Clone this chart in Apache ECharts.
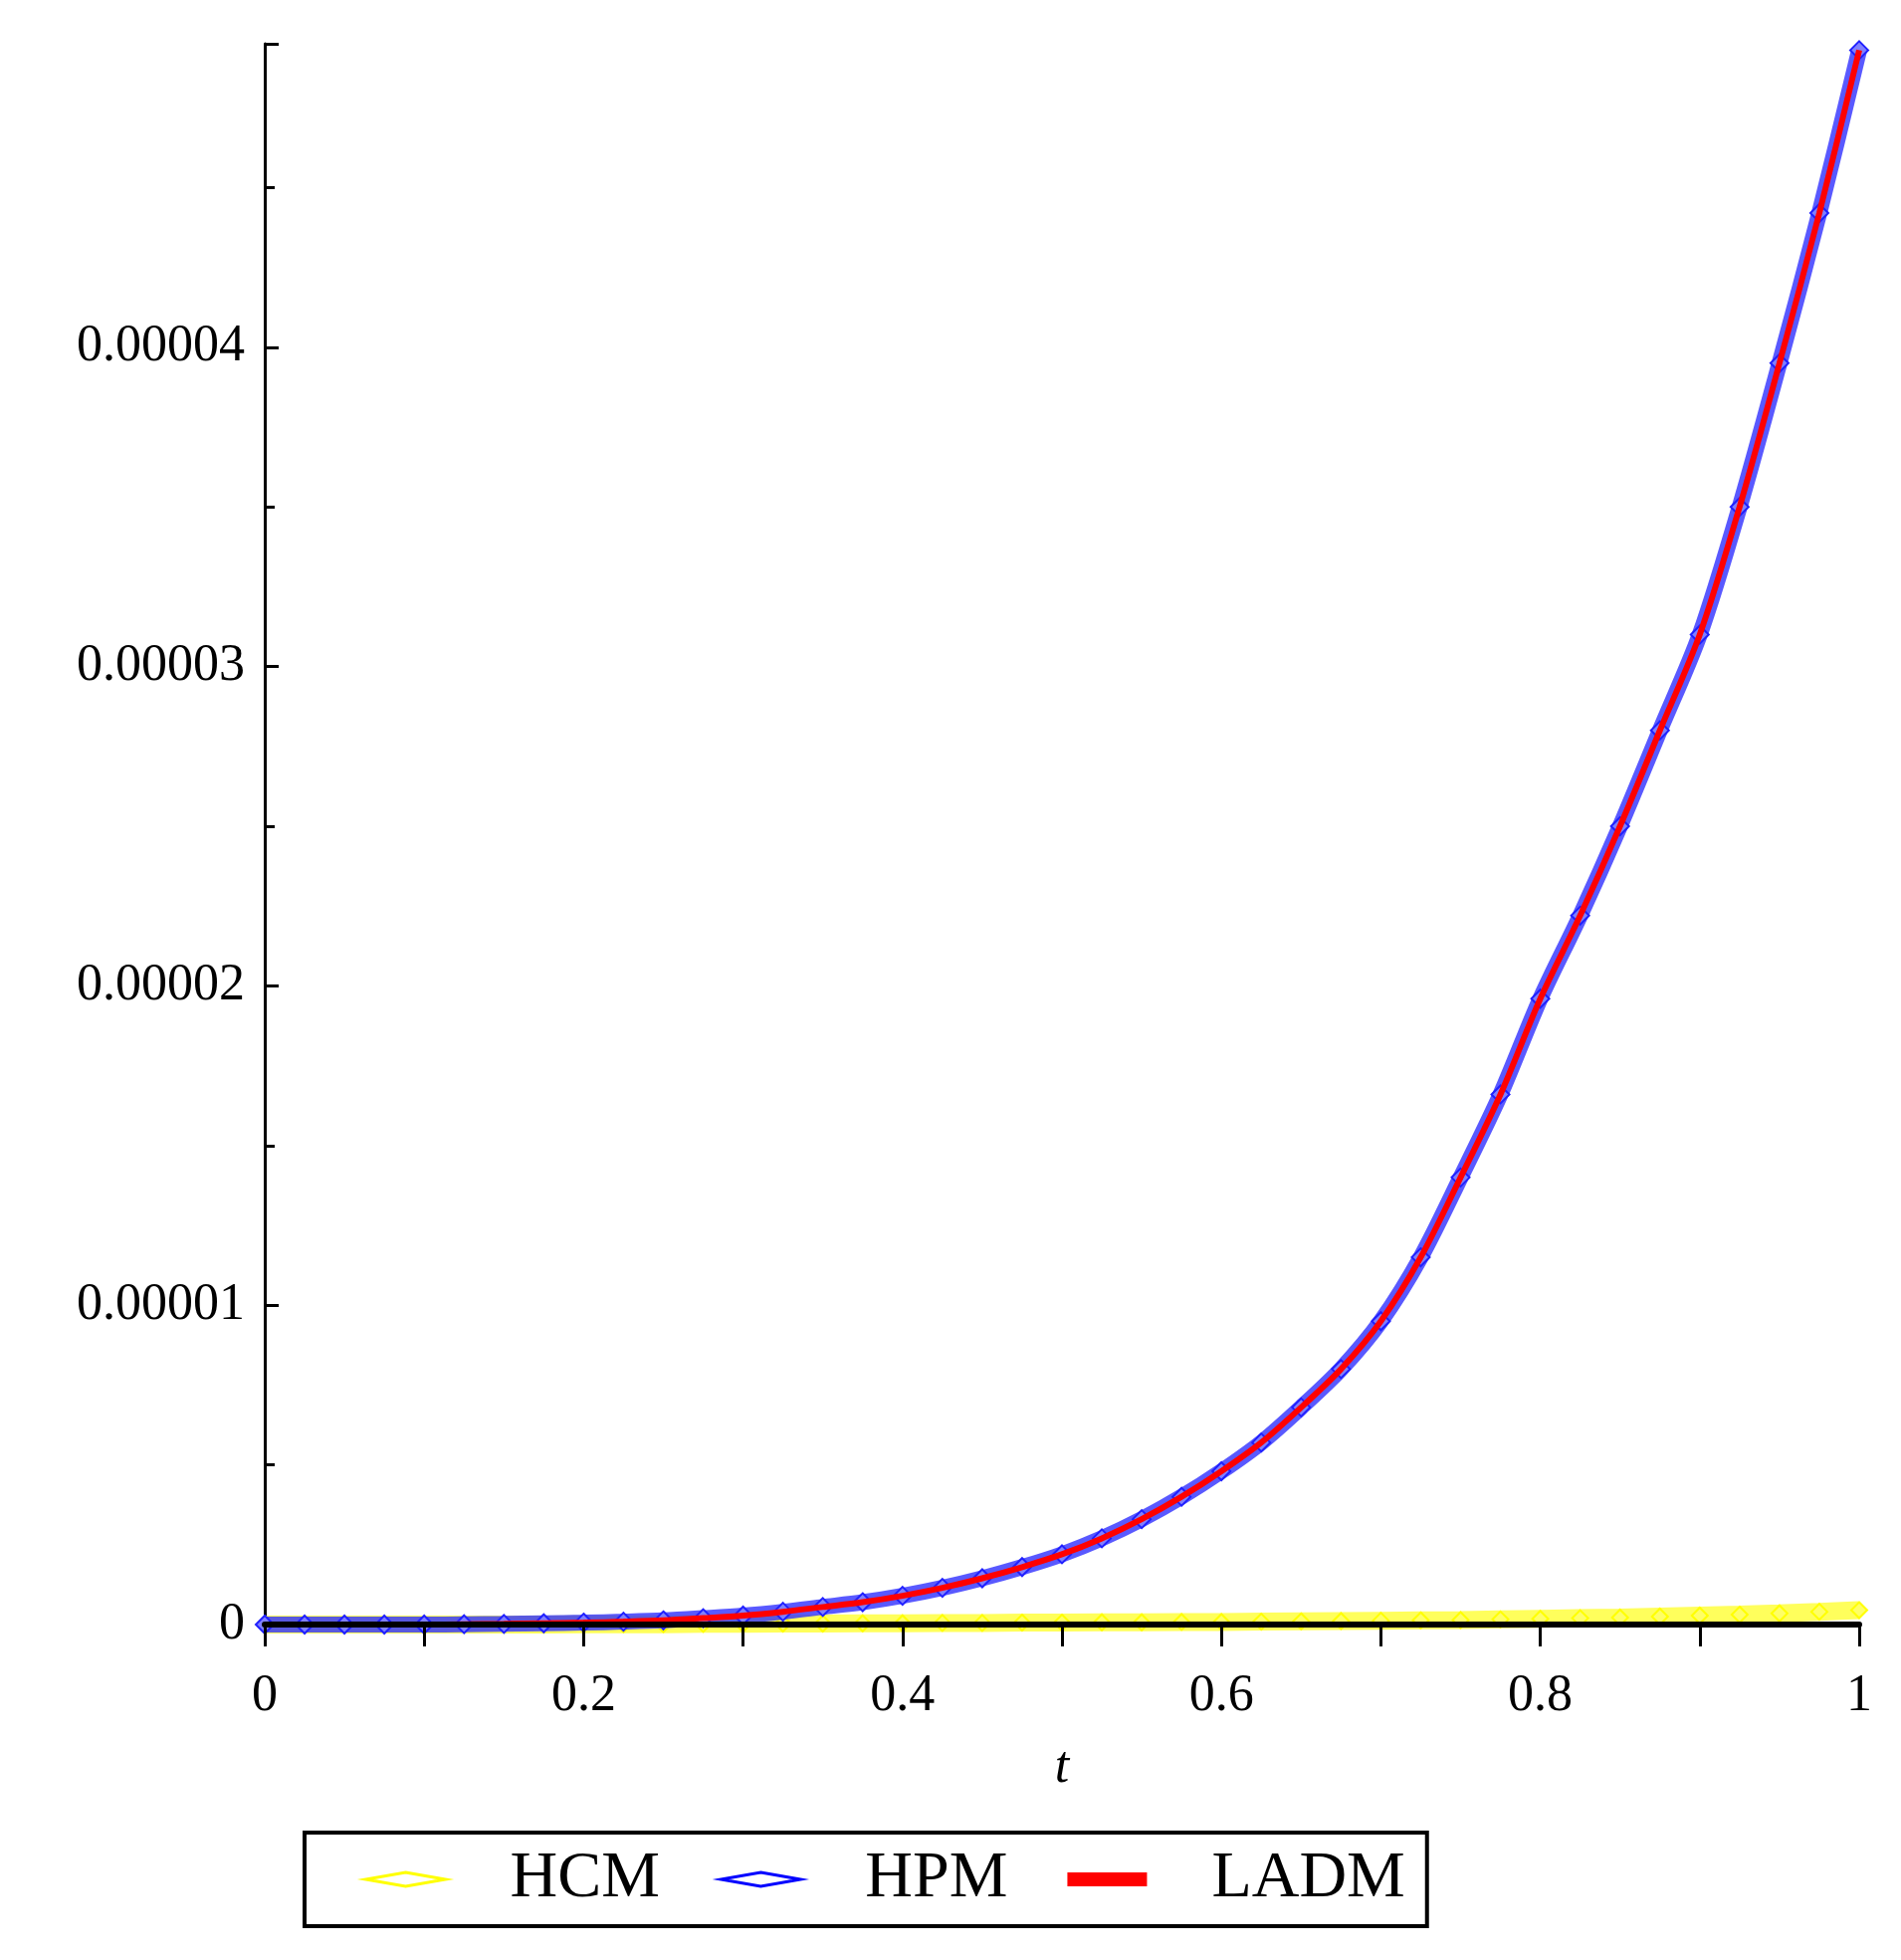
<!DOCTYPE html>
<html><head><meta charset="utf-8">
<script src="https://cdn.jsdelivr.net/npm/echarts@6/dist/echarts.min.js"></script>
<style>html,body{margin:0;padding:0;background:#fff}#c{width:1910px;height:1969px}</style>
</head><body><div id="c"></div>
<script>
const tValues = [0,0.025,0.05,0.075,0.1,0.125,0.15,0.175,0.2,0.225,0.25,0.275,0.3,0.325,0.35,0.375,0.4,0.425,0.45,0.475,0.5,0.525,0.55,0.575,0.6,0.625,0.65,0.675,0.7,0.725,0.75,0.775,0.8,0.825,0.85,0.875,0.9,0.925,0.95,0.975,1];
// values in units of 1e-5
const ladmValues = [0,0,0,0,0,0.001,0.002,0.004,0.006,0.009,0.013,0.02,0.028,0.04,0.055,0.07,0.09,0.115,0.145,0.18,0.22,0.27,0.33,0.4,0.48,0.57,0.68,0.8,0.95,1.15,1.4,1.66,1.96,2.22,2.5,2.8,3.1,3.5,3.95,4.42,4.93];
const hpmValues  = [0,0,0,0,0,0.001,0.002,0.004,0.006,0.009,0.013,0.02,0.028,0.04,0.055,0.07,0.09,0.115,0.145,0.18,0.22,0.27,0.33,0.4,0.48,0.57,0.68,0.8,0.95,1.15,1.4,1.66,1.96,2.22,2.5,2.8,3.1,3.5,3.95,4.42,4.93];
const hcmValues  = [0,0,0,0,0,0,0,0,0.001,0.001,0.001,0.002,0.002,0.003,0.003,0.004,0.004,0.005,0.005,0.006,0.006,0.007,0.007,0.008,0.008,0.009,0.01,0.011,0.012,0.013,0.014,0.016,0.018,0.02,0.022,0.025,0.028,0.031,0.035,0.04,0.045];
const yTicks = ['0','0.00001','0.00002','0.00003','0.00004'];
const S = 1e-5;
const pairs = v => tValues.map((t,i)=>[t, v[i]*S]);
const font = '"Liberation Serif","DejaVu Serif",serif';
const chart = echarts.init(document.getElementById('c'));
chart.setOption({
  animation:false,
  grid:{left:266,right:42,top:44,bottom:337,containLabel:false},
  xAxis:{type:'value',min:0,max:1,interval:0.2,z:10,
    name:'t',nameLocation:'middle',nameGap:118,
    nameTextStyle:{fontFamily:font,fontStyle:'italic',fontSize:52,color:'#000'},
    axisLine:{onZero:true,lineStyle:{color:'#000',width:6}},
    axisTick:{inside:false,length:22,lineStyle:{color:'#000',width:3}},
    minorTick:{show:true,splitNumber:2,length:22,lineStyle:{color:'#000',width:3}},
    axisLabel:{fontFamily:font,fontSize:52,color:'#000',margin:46,formatter:v=>String(+v.toFixed(1))},
    splitLine:{show:false}},
  yAxis:{type:'value',min:0,max:4.95e-5,interval:1e-5,
    axisLine:{lineStyle:{color:'#000',width:3}},
    axisTick:{inside:true,length:14,lineStyle:{color:'#000',width:3}},
    minorTick:{show:true,splitNumber:2,length:10,lineStyle:{color:'#000',width:3}},
    axisLabel:{fontFamily:font,fontSize:52,color:'#000',margin:20,showMaxLabel:false,
      formatter:v=>yTicks[Math.round(v/S)]||''},
    splitLine:{show:false}},
  legend:{bottom:34,left:306,orient:'horizontal',
    padding:[14,22,14,60],itemGap:60,
    borderColor:'#000',borderWidth:4,itemWidth:80,itemHeight:14,
    textStyle:{fontFamily:font,fontSize:66,color:'#000',padding:[0,0,0,60]},
    data:[{name:'HCM',icon:'diamond',itemStyle:{color:'#fff',borderColor:'#ffff00',borderWidth:3}},
          {name:'HPM',icon:'diamond',itemStyle:{color:'#fff',borderColor:'#0000ff',borderWidth:3}},
          {name:'LADM',icon:'rect',itemStyle:{color:'#ff0000'}}]},
  series:[
    {name:'HCM',type:'line',data:pairs(hcmValues),symbol:'diamond',symbolSize:16,showSymbol:true,
      lineStyle:{color:'#ffff33',width:18,opacity:0.8},itemStyle:{color:'#ffff66',borderColor:'#ffff00',borderWidth:2},z:1},
    {name:'HPM',type:'line',data:pairs(hpmValues),symbol:'diamond',symbolSize:18,showSymbol:true,smooth:0.3,
      lineStyle:{color:'#3030ff',width:16,opacity:0.8},itemStyle:{color:'#8080ff',borderColor:'#2020ff',borderWidth:2},z:2},
    {name:'LADM',type:'line',data:pairs(ladmValues),symbol:'none',smooth:0.3,
      lineStyle:{color:'#ff0000',width:6},itemStyle:{color:'#ff0000'},z:3}
  ]
});
</script></body></html>
